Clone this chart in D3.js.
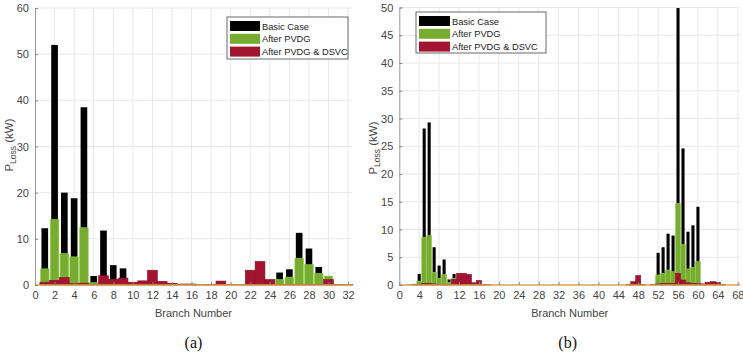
<!DOCTYPE html>
<html><head><meta charset="utf-8">
<script src="https://cdn.jsdelivr.net/npm/d3@7"></script>
<style>body{margin:0;background:#fff}svg{display:block}</style>
</head><body>
<svg id="c" width="743" height="355" font-family="Liberation Sans, Arial, sans-serif"></svg>
<script>
// ---- Data: chart (a), branches 1..32 ----
const branchesA = d3.range(1, 33);
const basicA = [12.3,52.0,20.0,18.8,38.5,1.95,11.8,4.3,3.6,0.5,0.8,2.8,0.6,0.3,0.2,0.2,0.05,0.1,0.7,0.05,0.05,2.5,4.5,1.0,2.7,3.4,11.3,7.9,3.9,1.9,0.1,0.05];
const pvdgA  = [3.5,14.2,6.8,6.1,12.4,0.5,1.8,1.1,1.3,0.4,0.7,2.6,0.5,0.3,0.2,0.2,0.05,0.1,0.6,0.05,0.05,2.4,4.3,0.9,1.2,1.7,5.8,4.4,2.5,1.95,0.1,0.05];
const dsvcA  = [0.6,1.0,1.6,0.3,0.4,0.1,2.0,1.2,1.5,0.6,0.9,3.2,0.8,0.35,0.2,0.2,0.05,0.1,0.85,0.05,0.05,3.2,5.1,1.2,0.1,0.1,0.1,0.1,0.1,1.15,0.1,0.05];
const xTicksA = d3.range(0, 33, 2);
const yTicksA = d3.range(0, 61, 10);

// ---- Data: chart (b), branches 1..68 ----
const branchesB = d3.range(1, 69);
const basicB = [0,0.05,0.2,2.0,28.2,29.3,6.8,3.5,4.6,1.0,2.0,0.1,0.1,0.1,0.1,0.1,0.05,0,0,0,0,0,0,0,0,0,0,0,0,0,0,0,0,0,0,0,0,0,0,0,0,0,0,0,0,0.05,0.3,0.8,0.05,0,0.05,5.8,6.8,9.25,8.9,49.9,24.6,9.6,10.75,14.1,0.1,0.3,0.4,0.3,0.05,0,0,0];
const pvdgB  = [0,0.05,0.1,0.7,8.6,8.9,2.3,1.2,1.9,0.5,1.2,0.1,0.1,0.1,0.1,0.1,0.05,0,0,0,0,0,0,0,0,0,0,0,0,0,0,0,0,0,0,0,0,0,0,0,0,0,0,0,0,0.05,0.3,0.8,0.05,0,0.05,1.8,2.1,2.7,2.4,14.7,7.3,2.9,3.2,4.2,0.1,0.3,0.4,0.3,0.05,0,0,0];
const dsvcB  = [0,0,0.05,0.1,0.3,0.3,0.2,0.1,0.1,0.1,1.0,2.1,2.1,1.9,0.4,0.8,0.1,0.05,0,0,0,0,0,0,0,0,0,0,0,0,0,0,0,0,0,0,0,0,0,0,0,0,0,0,0,0.1,0.6,1.7,0.1,0,0.05,0.2,0.3,0.3,0.3,2.1,0.9,0.4,0.3,0.3,0.2,0.5,0.6,0.5,0.05,0,0,0];
const xTicksB = d3.range(0, 69, 4);
const yTicksB = d3.range(0, 51, 5);

const seriesNames = ["Basic Case","After PVDG","After PVDG & DSVC"];
const colors = ["#000000","#77ac30","#a2142f"];
const edgeColors = ["#000000","#8fd14f","#8a0f25"];

const svg = d3.select("#c");

function drawChart(o) {
  const x = d3.scaleLinear().domain(o.xDomain).range([o.left, o.right]);
  const y = d3.scaleLinear().domain(o.yDomain).range([o.bottom, o.top]);
  const g = svg.append("g");
  // grid
  g.selectAll(".gx").data(o.xTicks.filter(t => t > 0)).join("line")
    .attr("x1", d => x(d)).attr("x2", d => x(d)).attr("y1", o.top).attr("y2", o.bottom)
    .attr("stroke", "#e8e8e8").attr("stroke-width", 1);
  g.selectAll(".gy").data(o.yTicks.filter(t => t > 0)).join("line")
    .attr("x1", o.left).attr("x2", o.right).attr("y1", d => y(d)).attr("y2", d => y(d))
    .attr("stroke", "#e8e8e8").attr("stroke-width", 1);
  // bars
  const sets = [o.basic, o.pvdg, o.dsvc];
  sets.forEach((vals, si) => {
    const w = o.widths[si];
    g.append("g").selectAll("rect").data(o.branches.map((b, i) => ({b, v: vals[i]})).filter(d => d.v > 0))
      .join("rect")
      .attr("x", d => x(d.b - w / 2)).attr("width", d => x(w) - x(0))
      .attr("y", d => y(d.v)).attr("height", d => y(0) - y(d.v))
      .attr("fill", colors[si])
      .attr("stroke", si === 0 ? "none" : edgeColors[si]).attr("stroke-width", 0.6);
  });
  // baseline (orange)
  g.append("line").attr("x1", o.left).attr("x2", o.right).attr("y1", y(0)).attr("y2", y(0))
    .attr("stroke", "#d9a25a").attr("stroke-width", 1.5);
  // axes
  const ax = d3.axisBottom(x).tickValues(o.xTicks).tickSize(-3).tickPadding(6).tickFormat(d3.format("d"));
  const gx = g.append("g").attr("transform", `translate(0,${o.bottom})`).call(ax);
  gx.select(".domain").remove();
  gx.selectAll("line").attr("stroke", "#888");
  gx.selectAll("text").attr("fill", "#444").attr("font-size", 11).attr("font-family", "Liberation Sans, Arial, sans-serif");
  const ay = d3.axisLeft(y).tickValues(o.yTicks).tickSize(-3).tickPadding(6);
  const gy = g.append("g").attr("transform", `translate(${o.left},0)`).call(ay);
  gy.select(".domain").attr("stroke", "#999");
  gy.selectAll("line").attr("stroke", "#888");
  gy.selectAll("text").attr("fill", "#444").attr("font-size", 11).attr("font-family", "Liberation Sans, Arial, sans-serif");
  // y label
  const yl = g.append("text").attr("transform", `translate(${o.ylabelX},${o.ylabelY}) rotate(-90)`)
    .attr("text-anchor", "middle").attr("fill", "#444").attr("font-size", 11.5);
  yl.append("tspan").text("P");
  yl.append("tspan").text("Loss").attr("font-size", 8.5).attr("dy", 3);
  yl.append("tspan").text(" (kW)").attr("dy", -3);
  // x label
  g.append("text").attr("x", (o.left + o.right) / 2).attr("y", 317).attr("text-anchor", "middle")
    .attr("fill", "#444").attr("font-size", 11).text("Branch Number");
  g.append("text").attr("x", (o.left + o.right) / 2 + o.capDx).attr("y", 348).attr("text-anchor", "middle")
    .attr("fill", "#111").attr("font-size", 16).attr("font-family", "Liberation Serif, Times New Roman, serif").text(o.caption);
  // legend
  const L = o.legend;
  g.append("rect").attr("x", L.x).attr("y", L.y).attr("width", L.w).attr("height", L.h)
    .attr("fill", "#fff").attr("stroke", "#444").attr("stroke-width", 0.8);
  seriesNames.forEach((n, i) => {
    const yy = L.y + 4 + i * 12.8;
    g.append("rect").attr("x", L.x + 3).attr("y", yy).attr("width", L.sw).attr("height", 10).attr("fill", colors[i]);
    g.append("text").attr("x", L.x + L.sw + 5).attr("y", yy + 8.5).attr("font-size", 9.3).attr("fill", "#222").text(n);
  });
}

drawChart({
  branches: branchesA, basic: basicA, pvdg: pvdgA, dsvc: dsvcA,
  xDomain: [0, 32.4], yDomain: [0, 60], xTicks: xTicksA, yTicks: yTicksA,
  left: 35, right: 352, top: 8, bottom: 285, widths: [0.68, 0.88, 1.0],
  ylabelX: 13, ylabelY: 145, caption: "(a)", capDx: 0,
  legend: {x: 227, y: 17, w: 121, h: 42, sw: 30}
});
drawChart({
  branches: branchesB, basic: basicB, pvdg: pvdgB, dsvc: dsvcB,
  xDomain: [0, 68.45], yDomain: [0, 50], xTicks: xTicksB, yTicks: yTicksB,
  left: 399.3, right: 740, top: 7.5, bottom: 285, widths: [0.62, 1.0, 1.0],
  ylabelX: 377, ylabelY: 148, caption: "(b)", capDx: -2,
  legend: {x: 416, y: 12, w: 130, h: 41, sw: 31}
});
</script>
</body></html>
